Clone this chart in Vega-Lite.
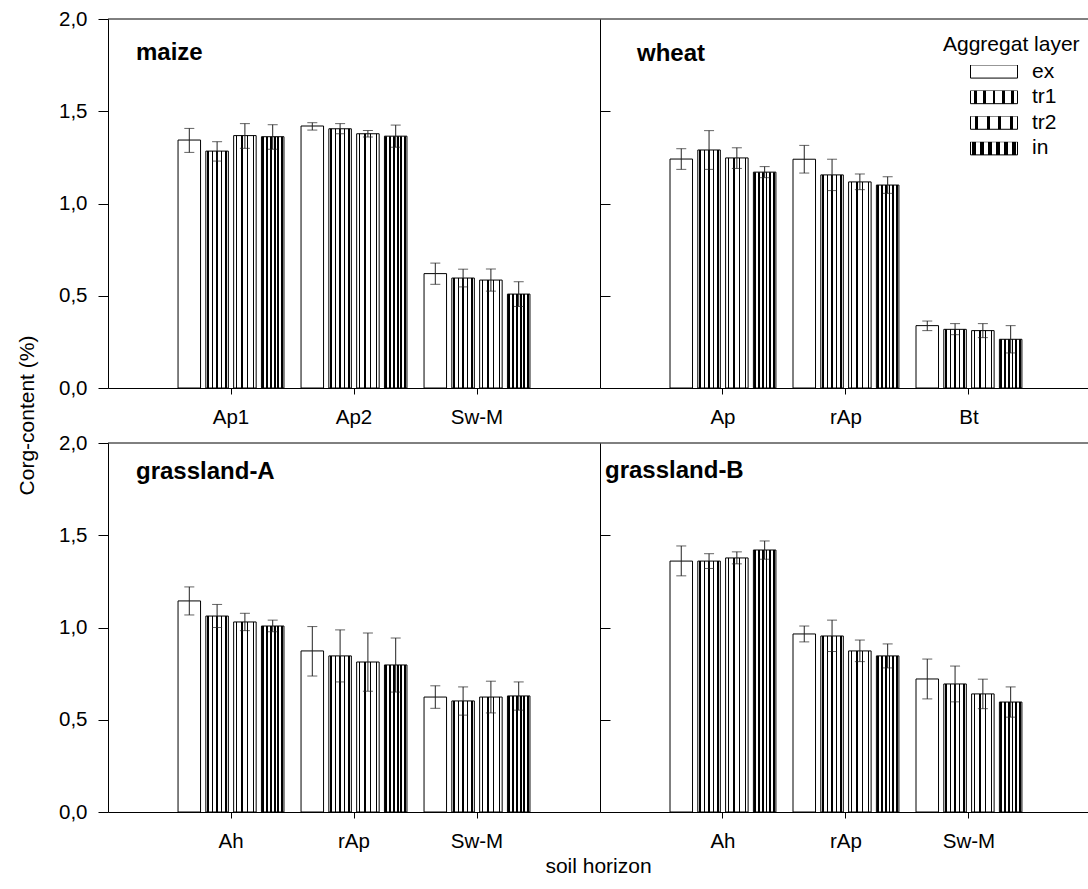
{
  "$schema": "https://vega.github.io/schema/vega-lite/v6.json",
  "padding": {"left": 16, "top": 9, "right": 0, "bottom": 5},
  "bounds": "flush",
  "columns": 2,
  "spacing": {"row": 55, "column": 0},
  "config": {
    "font": "Liberation Sans",
    "view": {"stroke": null},
    "axis": {"grid": false, "domainColor": "black", "tickColor": "black", "labelColor": "black", "titleColor": "black", "labelFontSize": 20.5, "titleFontSize": 21, "titleFontWeight": "normal"},
    "legend": {"orient": "none", "legendX": 835, "legendY": 15, "titleFontSize": 21, "titleFontWeight": "normal", "titleColor": "black", "titlePadding": 10, "labelFontSize": 21, "labelColor": "black", "symbolType": "M-1,-0.28H1V0.28H-1Z", "symbolSize": 2209, "symbolStrokeColor": "black", "symbolStrokeWidth": 1, "clipHeight": 13, "rowPadding": 3.6, "symbolOffset": 27, "labelOffset": 14, "titleAnchor": "start", "padding": 0}
  },
  "datasets": {
    "bars": [
      {"crop": "maize", "horizon": "Ap1", "layer": "ex", "mean": 1.344, "lo": 1.277, "hi": 1.407},
      {"crop": "maize", "horizon": "Ap1", "layer": "tr1", "mean": 1.284, "lo": 1.23, "hi": 1.335},
      {"crop": "maize", "horizon": "Ap1", "layer": "tr2", "mean": 1.368, "lo": 1.299, "hi": 1.433},
      {"crop": "maize", "horizon": "Ap1", "layer": "in", "mean": 1.362, "lo": 1.294, "hi": 1.427},
      {"crop": "maize", "horizon": "Ap2", "layer": "ex", "mean": 1.42, "lo": 1.398, "hi": 1.438},
      {"crop": "maize", "horizon": "Ap2", "layer": "tr1", "mean": 1.405, "lo": 1.378, "hi": 1.433},
      {"crop": "maize", "horizon": "Ap2", "layer": "tr2", "mean": 1.378, "lo": 1.36, "hi": 1.395},
      {"crop": "maize", "horizon": "Ap2", "layer": "in", "mean": 1.365, "lo": 1.305, "hi": 1.425},
      {"crop": "maize", "horizon": "Sw-M", "layer": "ex", "mean": 0.62, "lo": 0.562, "hi": 0.677},
      {"crop": "maize", "horizon": "Sw-M", "layer": "tr1", "mean": 0.596, "lo": 0.548, "hi": 0.644},
      {"crop": "maize", "horizon": "Sw-M", "layer": "tr2", "mean": 0.585, "lo": 0.525, "hi": 0.645},
      {"crop": "maize", "horizon": "Sw-M", "layer": "in", "mean": 0.509, "lo": 0.442, "hi": 0.576},
      {"crop": "wheat", "horizon": "Ap", "layer": "ex", "mean": 1.241, "lo": 1.185, "hi": 1.297},
      {"crop": "wheat", "horizon": "Ap", "layer": "tr1", "mean": 1.29, "lo": 1.185, "hi": 1.395},
      {"crop": "wheat", "horizon": "Ap", "layer": "tr2", "mean": 1.247, "lo": 1.19, "hi": 1.302},
      {"crop": "wheat", "horizon": "Ap", "layer": "in", "mean": 1.17, "lo": 1.14, "hi": 1.2},
      {"crop": "wheat", "horizon": "rAp", "layer": "ex", "mean": 1.24, "lo": 1.165, "hi": 1.315},
      {"crop": "wheat", "horizon": "rAp", "layer": "tr1", "mean": 1.155, "lo": 1.07, "hi": 1.24},
      {"crop": "wheat", "horizon": "rAp", "layer": "tr2", "mean": 1.117, "lo": 1.075, "hi": 1.16},
      {"crop": "wheat", "horizon": "rAp", "layer": "in", "mean": 1.1, "lo": 1.055, "hi": 1.145},
      {"crop": "wheat", "horizon": "Bt", "layer": "ex", "mean": 0.338, "lo": 0.311, "hi": 0.363},
      {"crop": "wheat", "horizon": "Bt", "layer": "tr1", "mean": 0.318, "lo": 0.289, "hi": 0.349},
      {"crop": "wheat", "horizon": "Bt", "layer": "tr2", "mean": 0.311, "lo": 0.273, "hi": 0.349},
      {"crop": "wheat", "horizon": "Bt", "layer": "in", "mean": 0.264, "lo": 0.19, "hi": 0.338},
      {"crop": "grassland-A", "horizon": "Ah", "layer": "ex", "mean": 1.144, "lo": 1.068, "hi": 1.22},
      {"crop": "grassland-A", "horizon": "Ah", "layer": "tr1", "mean": 1.062, "lo": 1.0, "hi": 1.125},
      {"crop": "grassland-A", "horizon": "Ah", "layer": "tr2", "mean": 1.03, "lo": 0.983, "hi": 1.077},
      {"crop": "grassland-A", "horizon": "Ah", "layer": "in", "mean": 1.008, "lo": 0.977, "hi": 1.04},
      {"crop": "grassland-A", "horizon": "rAp", "layer": "ex", "mean": 0.873, "lo": 0.737, "hi": 1.005},
      {"crop": "grassland-A", "horizon": "rAp", "layer": "tr1", "mean": 0.846, "lo": 0.705, "hi": 0.987},
      {"crop": "grassland-A", "horizon": "rAp", "layer": "tr2", "mean": 0.813, "lo": 0.655, "hi": 0.97},
      {"crop": "grassland-A", "horizon": "rAp", "layer": "in", "mean": 0.797, "lo": 0.65, "hi": 0.943},
      {"crop": "grassland-A", "horizon": "Sw-M", "layer": "ex", "mean": 0.623, "lo": 0.562, "hi": 0.684},
      {"crop": "grassland-A", "horizon": "Sw-M", "layer": "tr1", "mean": 0.602, "lo": 0.525, "hi": 0.678},
      {"crop": "grassland-A", "horizon": "Sw-M", "layer": "tr2", "mean": 0.623, "lo": 0.537, "hi": 0.709},
      {"crop": "grassland-A", "horizon": "Sw-M", "layer": "in", "mean": 0.629, "lo": 0.552, "hi": 0.705},
      {"crop": "grassland-B", "horizon": "Ah", "layer": "ex", "mean": 1.36, "lo": 1.28, "hi": 1.442},
      {"crop": "grassland-B", "horizon": "Ah", "layer": "tr1", "mean": 1.36, "lo": 1.32, "hi": 1.4},
      {"crop": "grassland-B", "horizon": "Ah", "layer": "tr2", "mean": 1.377, "lo": 1.345, "hi": 1.41},
      {"crop": "grassland-B", "horizon": "Ah", "layer": "in", "mean": 1.42, "lo": 1.37, "hi": 1.469},
      {"crop": "grassland-B", "horizon": "rAp", "layer": "ex", "mean": 0.965, "lo": 0.922, "hi": 1.008},
      {"crop": "grassland-B", "horizon": "rAp", "layer": "tr1", "mean": 0.954, "lo": 0.87, "hi": 1.04},
      {"crop": "grassland-B", "horizon": "rAp", "layer": "tr2", "mean": 0.873, "lo": 0.815, "hi": 0.932},
      {"crop": "grassland-B", "horizon": "rAp", "layer": "in", "mean": 0.846, "lo": 0.781, "hi": 0.911},
      {"crop": "grassland-B", "horizon": "Sw-M", "layer": "ex", "mean": 0.721, "lo": 0.613, "hi": 0.829},
      {"crop": "grassland-B", "horizon": "Sw-M", "layer": "tr1", "mean": 0.694, "lo": 0.597, "hi": 0.791},
      {"crop": "grassland-B", "horizon": "Sw-M", "layer": "tr2", "mean": 0.64, "lo": 0.56, "hi": 0.72},
      {"crop": "grassland-B", "horizon": "Sw-M", "layer": "in", "mean": 0.596, "lo": 0.514, "hi": 0.678}
    ]
  },
  "concat": [
    {
      "width": 492, "height": 369,
      "title": {"text": "maize", "anchor": "start", "frame": "group", "dx": 28, "offset": -75, "baseline": "alphabetic", "fontSize": 24, "fontWeight": "bold", "color": "black"},
      "layer": [
        {
          "data": {"name": "bars"}, "transform": [{"filter": "datum.crop === 'maize'"}],
          "mark": {"type": "bar", "stroke": "black", "strokeWidth": 1},
          "encoding": {
            "x": {"field": "horizon", "type": "nominal", "scale": {"domain": ["Ap1", "Ap2", "Sw-M"], "paddingInner": 0.096, "paddingOuter": 0.548}, "axis": {"title": null, "labelAngle": 0, "tickSize": 6, "labelPadding": 13}},
            "xOffset": {"field": "layer", "type": "nominal", "scale": {"domain": ["ex", "tr1", "tr2", "in"], "paddingInner": 0.19, "paddingOuter": 0.095}},
            "y": {"field": "mean", "type": "quantitative", "scale": {"domain": [0, 2], "nice": false}, "axis": {"values": [0, 0.5, 1, 1.5, 2], "labelExpr": "replace(format(datum.value, '.1f'), '.', ',')", "tickSize": 10, "labelPadding": 11, "title": "Corg-content (%)", "titleY": 396, "titlePadding": 21}},
            "fill": {"field": "layer", "type": "nominal", "legend": {"title": "Aggregat layer"}, "scale": {"domain": ["ex", "tr1", "tr2", "in"], "range": [
              "white",
              {"expr": "{gradient:'linear',x1:0,y1:0,x2:1,y2:0,stops:[{offset:0,color:'white'},{offset:0.07,color:'white'},{offset:0.07,color:'black'},{offset:0.13,color:'black'},{offset:0.13,color:'white'},{offset:0.27,color:'white'},{offset:0.27,color:'black'},{offset:0.33,color:'black'},{offset:0.33,color:'white'},{offset:0.47,color:'white'},{offset:0.47,color:'black'},{offset:0.53,color:'black'},{offset:0.53,color:'white'},{offset:0.67,color:'white'},{offset:0.67,color:'black'},{offset:0.73,color:'black'},{offset:0.73,color:'white'},{offset:0.87,color:'white'},{offset:0.87,color:'black'},{offset:0.93,color:'black'},{offset:0.93,color:'white'},{offset:1,color:'white'}]}"},
              {"expr": "{gradient:'linear',x1:0,y1:0,x2:1,y2:0,stops:[{offset:0,color:'white'},{offset:0.095,color:'white'},{offset:0.095,color:'black'},{offset:0.155,color:'black'},{offset:0.155,color:'white'},{offset:0.345,color:'white'},{offset:0.345,color:'black'},{offset:0.405,color:'black'},{offset:0.405,color:'white'},{offset:0.595,color:'white'},{offset:0.595,color:'black'},{offset:0.655,color:'black'},{offset:0.655,color:'white'},{offset:0.845,color:'white'},{offset:0.845,color:'black'},{offset:0.905,color:'black'},{offset:0.905,color:'white'},{offset:1,color:'white'}]}"},
              {"expr": "{gradient:'linear',x1:0,y1:0,x2:1,y2:0,stops:[{offset:0,color:'white'},{offset:0.042,color:'white'},{offset:0.042,color:'black'},{offset:0.125,color:'black'},{offset:0.125,color:'white'},{offset:0.208,color:'white'},{offset:0.208,color:'black'},{offset:0.292,color:'black'},{offset:0.292,color:'white'},{offset:0.375,color:'white'},{offset:0.375,color:'black'},{offset:0.458,color:'black'},{offset:0.458,color:'white'},{offset:0.542,color:'white'},{offset:0.542,color:'black'},{offset:0.625,color:'black'},{offset:0.625,color:'white'},{offset:0.708,color:'white'},{offset:0.708,color:'black'},{offset:0.792,color:'black'},{offset:0.792,color:'white'},{offset:0.875,color:'white'},{offset:0.875,color:'black'},{offset:0.958,color:'black'},{offset:0.958,color:'white'},{offset:1,color:'white'}]}"}
            ]}}
          }
        },
        {
          "data": {"name": "bars"}, "transform": [{"filter": "datum.crop === 'maize'"}],
          "mark": {"type": "rule", "color": "#222", "strokeWidth": 1},
          "encoding": {
            "x": {"field": "horizon", "type": "nominal"},
            "xOffset": {"field": "layer", "type": "nominal"},
            "y": {"field": "lo", "type": "quantitative"},
            "y2": {"field": "hi"}
          }
        },
        {
          "data": {"name": "bars"}, "transform": [{"filter": "datum.crop === 'maize'"}],
          "mark": {"type": "tick", "color": "#222", "size": 10, "thickness": 1},
          "encoding": {
            "x": {"field": "horizon", "type": "nominal"},
            "xOffset": {"field": "layer", "type": "nominal"},
            "y": {"field": "lo", "type": "quantitative"}
          }
        },
        {
          "data": {"name": "bars"}, "transform": [{"filter": "datum.crop === 'maize'"}],
          "mark": {"type": "tick", "color": "#222", "size": 10, "thickness": 1},
          "encoding": {
            "x": {"field": "horizon", "type": "nominal"},
            "xOffset": {"field": "layer", "type": "nominal"},
            "y": {"field": "hi", "type": "quantitative"}
          }
        },
        {
          "data": {"values": [{}]},
          "mark": {"type": "rule", "color": "black", "strokeWidth": 1},
          "encoding": {"y": {"datum": 2, "type": "quantitative"}}
        }
      ]
    },
    {
      "width": 488, "height": 369,
      "title": {"text": "wheat", "anchor": "start", "frame": "group", "dx": 37, "offset": -66, "baseline": "alphabetic", "fontSize": 24, "fontWeight": "bold", "color": "black"},
      "layer": [
        {
          "data": {"name": "bars"}, "transform": [{"filter": "datum.crop === 'wheat'"}],
          "mark": {"type": "bar", "stroke": "black", "strokeWidth": 1},
          "encoding": {
            "x": {"field": "horizon", "type": "nominal", "scale": {"domain": ["Ap", "rAp", "Bt"], "paddingInner": 0.096, "paddingOuter": 0.5317, "align": 0.515}, "axis": {"title": null, "labelAngle": 0, "tickSize": 6, "labelPadding": 13}},
            "xOffset": {"field": "layer", "type": "nominal", "scale": {"domain": ["ex", "tr1", "tr2", "in"], "paddingInner": 0.19, "paddingOuter": 0.095}},
            "y": {"field": "mean", "type": "quantitative", "scale": {"domain": [0, 2], "nice": false}, "axis": {"values": [0.5, 1, 1.5], "labels": false, "tickSize": -10, "title": null}},
            "fill": {"field": "layer", "type": "nominal", "legend": {"title": "Aggregat layer"}}
          }
        },
        {
          "data": {"name": "bars"}, "transform": [{"filter": "datum.crop === 'wheat'"}],
          "mark": {"type": "rule", "color": "#222", "strokeWidth": 1},
          "encoding": {
            "x": {"field": "horizon", "type": "nominal"},
            "xOffset": {"field": "layer", "type": "nominal"},
            "y": {"field": "lo", "type": "quantitative"},
            "y2": {"field": "hi"}
          }
        },
        {
          "data": {"name": "bars"}, "transform": [{"filter": "datum.crop === 'wheat'"}],
          "mark": {"type": "tick", "color": "#222", "size": 10, "thickness": 1},
          "encoding": {
            "x": {"field": "horizon", "type": "nominal"},
            "xOffset": {"field": "layer", "type": "nominal"},
            "y": {"field": "lo", "type": "quantitative"}
          }
        },
        {
          "data": {"name": "bars"}, "transform": [{"filter": "datum.crop === 'wheat'"}],
          "mark": {"type": "tick", "color": "#222", "size": 10, "thickness": 1},
          "encoding": {
            "x": {"field": "horizon", "type": "nominal"},
            "xOffset": {"field": "layer", "type": "nominal"},
            "y": {"field": "hi", "type": "quantitative"}
          }
        },
        {
          "data": {"values": [{}]},
          "mark": {"type": "rule", "color": "black", "strokeWidth": 1},
          "encoding": {"y": {"datum": 2, "type": "quantitative"}}
        }
      ]
    },
    {
      "width": 492, "height": 369,
      "title": {"text": "grassland-A", "anchor": "start", "frame": "group", "dx": 28, "offset": -70, "baseline": "alphabetic", "fontSize": 24, "fontWeight": "bold", "color": "black"},
      "layer": [
        {
          "data": {"name": "bars"}, "transform": [{"filter": "datum.crop === 'grassland-A'"}],
          "mark": {"type": "bar", "stroke": "black", "strokeWidth": 1},
          "encoding": {
            "x": {"field": "horizon", "type": "nominal", "scale": {"domain": ["Ah", "rAp", "Sw-M"], "paddingInner": 0.096, "paddingOuter": 0.548}, "axis": {"title": "soil horizon", "titleX": 490, "titlePadding": 4, "labelAngle": 0, "tickSize": 6, "labelPadding": 13}},
            "xOffset": {"field": "layer", "type": "nominal", "scale": {"domain": ["ex", "tr1", "tr2", "in"], "paddingInner": 0.19, "paddingOuter": 0.095}},
            "y": {"field": "mean", "type": "quantitative", "scale": {"domain": [0, 2], "nice": false}, "axis": {"values": [0, 0.5, 1, 1.5, 2], "labelExpr": "replace(format(datum.value, '.1f'), '.', ',')", "tickSize": 10, "labelPadding": 11, "title": null}},
            "fill": {"field": "layer", "type": "nominal", "legend": {"title": "Aggregat layer"}}
          }
        },
        {
          "data": {"name": "bars"}, "transform": [{"filter": "datum.crop === 'grassland-A'"}],
          "mark": {"type": "rule", "color": "#222", "strokeWidth": 1},
          "encoding": {
            "x": {"field": "horizon", "type": "nominal"},
            "xOffset": {"field": "layer", "type": "nominal"},
            "y": {"field": "lo", "type": "quantitative"},
            "y2": {"field": "hi"}
          }
        },
        {
          "data": {"name": "bars"}, "transform": [{"filter": "datum.crop === 'grassland-A'"}],
          "mark": {"type": "tick", "color": "#222", "size": 10, "thickness": 1},
          "encoding": {
            "x": {"field": "horizon", "type": "nominal"},
            "xOffset": {"field": "layer", "type": "nominal"},
            "y": {"field": "lo", "type": "quantitative"}
          }
        },
        {
          "data": {"name": "bars"}, "transform": [{"filter": "datum.crop === 'grassland-A'"}],
          "mark": {"type": "tick", "color": "#222", "size": 10, "thickness": 1},
          "encoding": {
            "x": {"field": "horizon", "type": "nominal"},
            "xOffset": {"field": "layer", "type": "nominal"},
            "y": {"field": "hi", "type": "quantitative"}
          }
        },
        {
          "data": {"values": [{}]},
          "mark": {"type": "rule", "color": "black", "strokeWidth": 1},
          "encoding": {"y": {"datum": 2, "type": "quantitative"}}
        }
      ]
    },
    {
      "width": 488, "height": 369,
      "title": {"text": "grassland-B", "anchor": "start", "frame": "group", "dx": 5, "offset": -59, "baseline": "alphabetic", "fontSize": 24, "fontWeight": "bold", "color": "black"},
      "layer": [
        {
          "data": {"name": "bars"}, "transform": [{"filter": "datum.crop === 'grassland-B'"}],
          "mark": {"type": "bar", "stroke": "black", "strokeWidth": 1},
          "encoding": {
            "x": {"field": "horizon", "type": "nominal", "scale": {"domain": ["Ah", "rAp", "Sw-M"], "paddingInner": 0.096, "paddingOuter": 0.5317, "align": 0.515}, "axis": {"title": null, "labelAngle": 0, "tickSize": 6, "labelPadding": 13}},
            "xOffset": {"field": "layer", "type": "nominal", "scale": {"domain": ["ex", "tr1", "tr2", "in"], "paddingInner": 0.19, "paddingOuter": 0.095}},
            "y": {"field": "mean", "type": "quantitative", "scale": {"domain": [0, 2], "nice": false}, "axis": {"values": [0.5, 1, 1.5], "labels": false, "tickSize": -10, "title": null}},
            "fill": {"field": "layer", "type": "nominal", "legend": {"title": "Aggregat layer"}}
          }
        },
        {
          "data": {"name": "bars"}, "transform": [{"filter": "datum.crop === 'grassland-B'"}],
          "mark": {"type": "rule", "color": "#222", "strokeWidth": 1},
          "encoding": {
            "x": {"field": "horizon", "type": "nominal"},
            "xOffset": {"field": "layer", "type": "nominal"},
            "y": {"field": "lo", "type": "quantitative"},
            "y2": {"field": "hi"}
          }
        },
        {
          "data": {"name": "bars"}, "transform": [{"filter": "datum.crop === 'grassland-B'"}],
          "mark": {"type": "tick", "color": "#222", "size": 10, "thickness": 1},
          "encoding": {
            "x": {"field": "horizon", "type": "nominal"},
            "xOffset": {"field": "layer", "type": "nominal"},
            "y": {"field": "lo", "type": "quantitative"}
          }
        },
        {
          "data": {"name": "bars"}, "transform": [{"filter": "datum.crop === 'grassland-B'"}],
          "mark": {"type": "tick", "color": "#222", "size": 10, "thickness": 1},
          "encoding": {
            "x": {"field": "horizon", "type": "nominal"},
            "xOffset": {"field": "layer", "type": "nominal"},
            "y": {"field": "hi", "type": "quantitative"}
          }
        },
        {
          "data": {"values": [{}]},
          "mark": {"type": "rule", "color": "black", "strokeWidth": 1},
          "encoding": {"y": {"datum": 2, "type": "quantitative"}}
        }
      ]
    }
  ]
}
